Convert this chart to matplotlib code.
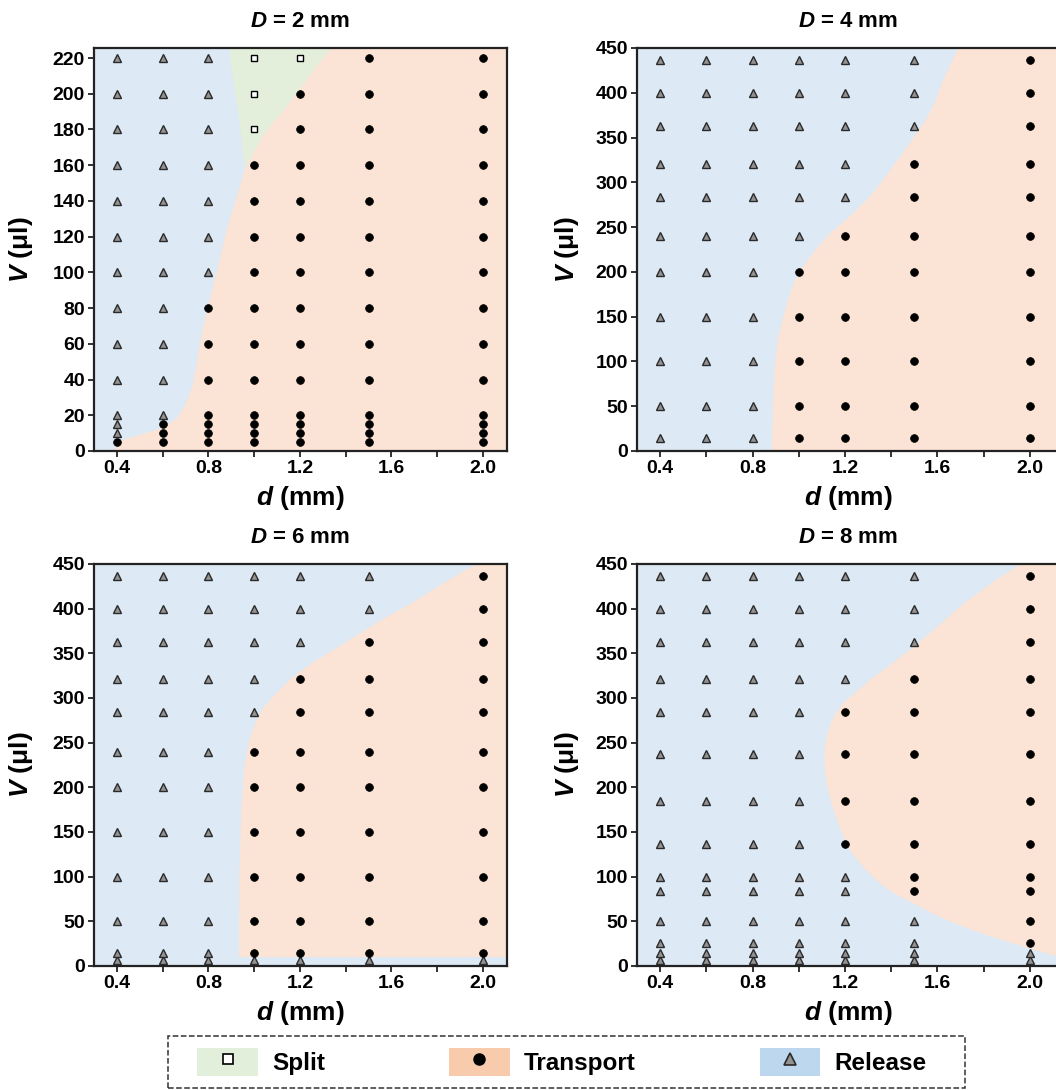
import numpy as np
import matplotlib
matplotlib.use('Agg')
import matplotlib.pyplot as plt
from matplotlib.patches import Patch, Rectangle
from matplotlib.lines import Line2D
from matplotlib.legend_handler import HandlerTuple

plt.rcParams['font.family'] = ['Liberation Sans', 'DejaVu Sans']
plt.rcParams['font.weight'] = 'bold'
plt.rcParams['mathtext.fontset'] = 'custom'
plt.rcParams['mathtext.it'] = 'Liberation Sans:bold:italic'
plt.rcParams['mathtext.rm'] = 'Liberation Sans:bold'

# ---- data ----
d_pos = [0.4, 0.6, 0.8, 1.0, 1.2, 1.5, 2.0]

# R = release, T = transport, S = split ; one string per d, one letter per V
v_d2 = [5, 10, 15, 20, 40, 60, 80, 100, 120, 140, 160, 180, 200, 220]
st_d2 = ["TRRRRRRRRRRRRR",
         "TTTRRRRRRRRRRR",
         "TTTTTTTRRRRRRR",
         "TTTTTTTTTTTSSS",
         "TTTTTTTTTTTTTS",
         "TTTTTTTTTTTTTT",
         "TTTTTTTTTTTTTT"]

v_d4 = [15, 50, 100, 150, 200, 240, 284, 320, 363, 400, 437]
st_d4 = ["RRRRRRRRRRR",
         "RRRRRRRRRRR",
         "RRRRRRRRRRR",
         "TTTTTRRRRRR",
         "TTTTTTRRRRR",
         "TTTTTTTTRRR",
         "TTTTTTTTTTT"]

v_d6 = [7, 15, 50, 100, 150, 200, 240, 284, 321, 363, 400, 437]
st_d6 = ["RRRRRRRRRRRR",
         "RRRRRRRRRRRR",
         "RRRRRRRRRRRR",
         "RTTTTTTRRRRR",
         "RTTTTTTTTRRR",
         "RTTTTTTTTTRR",
         "RTTTTTTTTTTT"]

v_d8 = [7, 15, 26, 50, 84, 100, 137, 185, 237, 284, 321, 363, 400, 437]
st_d8 = ["RRRRRRRRRRRRRR",
         "RRRRRRRRRRRRRR",
         "RRRRRRRRRRRRRR",
         "RRRRRRRRRRRRRR",
         "RRRRRRTTTTRRRR",
         "RRRRTTTTTTTRRR",
         "RRTTTTTTTTTTTT"]

# region outlines (d, V)
tr_d2_x = [0.39, 0.40, 0.50, 0.60, 0.66, 0.70, 0.73, 0.75, 0.77, 0.80, 0.84, 0.88, 0.93, 0.96,
           1.00, 1.04, 1.09, 1.13, 1.20, 1.275, 1.34, 2.2, 2.2]
tr_d2_y = [0, 5, 9, 13, 18, 26, 36, 50, 65, 82, 102, 124, 145, 158,
           168, 177, 185, 191, 203, 216, 226, 226, 0]
sp_d2_x = [0.96, 1.00, 1.04, 1.09, 1.13, 1.20, 1.275, 1.34, 0.89, 0.905, 0.93]
sp_d2_y = [158, 168, 177, 185, 191, 203, 216, 226, 226, 210, 190]

tr_d4_x = [0.883, 0.888, 0.897, 0.91, 0.933, 0.955, 0.977, 1.01, 1.049, 1.09, 1.135, 1.19,
           1.25, 1.31, 1.366, 1.45, 1.54, 1.59, 1.625, 1.69, 2.2, 2.2]
tr_d4_y = [0, 50, 98, 125, 150, 170, 187, 203, 217, 230, 243, 255,
           269, 285, 303, 333, 366, 390, 415, 450, 450, 0]

tr_d6_x = [0.934, 0.934, 0.936, 0.944, 0.955, 0.966, 0.985, 1.01, 1.04, 1.08, 1.17, 1.27,
           1.416, 1.56, 1.68, 1.78, 1.92, 1.98, 2.2, 2.2]
tr_d6_y = [10, 60, 104, 178, 215, 238, 258, 275, 289, 301, 324, 342,
           365, 388, 405, 421, 443, 450, 450, 10]

tr_d8_x = [1.96, 1.84, 1.71, 1.60, 1.496, 1.40, 1.307, 1.24, 1.19, 1.155, 1.133, 1.115, 1.11,
           1.112, 1.118, 1.133, 1.155, 1.185, 1.22, 1.28, 1.35, 1.42, 1.496, 1.60,
           1.71, 1.82, 1.93, 2.02, 2.10, 2.2, 2.2]
tr_d8_y = [450, 430, 405, 380, 357, 338, 320, 305, 294, 281, 268, 250, 238,
           222, 208, 190, 171, 150, 130, 110, 92.5, 80, 70, 56,
           44, 34, 25, 18, 12, 8, 450]

titles = ['2', '4', '6', '8']
xtick_vals = [0.4, 0.6, 0.8, 1.0, 1.2, 1.4, 1.6, 1.8, 2.0]
xtick_labels = ['0.4', '', '0.8', '', '1.2', '', '1.6', '', '2.0']

c_blue = '#dde9f5'
c_orange = '#fbe4d5'
c_green = '#e3efda'

fig = plt.figure(figsize=(10.56, 10.9), dpi=100)

W, H = 1056, 1090
def pos(l, t, r, b):
    return [l / W, 1 - b / H, (r - l) / W, (b - t) / H]

ax1 = fig.add_axes(pos(94, 48, 507, 451))
ax2 = fig.add_axes(pos(637, 48, 1060, 451))
ax3 = fig.add_axes(pos(94, 564, 507, 966))
ax4 = fig.add_axes(pos(637, 564, 1060, 966))

panels = [
    (ax1, v_d2, st_d2, [(tr_d2_x, tr_d2_y, c_orange), (sp_d2_x, sp_d2_y, c_green)], 225.6, np.arange(0, 221, 20), 2.105, -0.143),
    (ax2, v_d4, st_d4, [(tr_d4_x, tr_d4_y, c_orange)], 450, np.arange(0, 451, 50), 2.13, -0.132),
    (ax3, v_d6, st_d6, [(tr_d6_x, tr_d6_y, c_orange)], 450, np.arange(0, 451, 50), 2.105, -0.143),
    (ax4, v_d8, st_d8, [(tr_d8_x, tr_d8_y, c_orange)], 450, np.arange(0, 451, 50), 2.13, -0.132),
]

mk = {
    'R': dict(marker='^', ms=5.4, mfc='#939393', mec='#2a2a2a', mew=1.0),
    'T': dict(marker='o', ms=5.6, mfc='black', mec='black', mew=0.5),
    'S': dict(marker='s', ms=4.4, mfc='white', mec='black', mew=1.0),
}

for (ax, vs, states, regions, ytop, yt, xr, ylx), t in zip(panels, titles):
    ax.set_facecolor(c_blue)
    for rx, ry, rc in regions:
        ax.fill(rx, ry, color=rc, lw=0, zorder=0)
    for d, row in zip(d_pos, states):
        for key in 'RTS':
            yy = [v for v, s in zip(vs, row) if s == key]
            if yy:
                ax.plot([d] * len(yy), yy, ls='none', zorder=3, **mk[key])
    ax.set_xlim(0.3, xr)
    ax.set_ylim(0, ytop)
    ax.set_yticks(yt)
    ax.set_xticks(xtick_vals)
    ax.set_xticklabels(xtick_labels)
    ax.tick_params(direction='out', length=4.5, width=1.3, labelsize=14, pad=2, color='#222222')
    for lab in ax.get_xticklabels() + ax.get_yticklabels():
        lab.set_fontweight('bold')
    for sp in ax.spines.values():
        sp.set_linewidth(1.6)
        sp.set_color('#222222')
    ax.set_title(r'$D$ = ' + t + ' mm', fontsize=16, fontweight='bold', pad=15)
    ax.set_xlabel(r'$d$ (mm)', fontsize=19, fontweight='bold', labelpad=5)
    ax.set_ylabel(r'$V$ (μl)', fontsize=19, fontweight='bold')
    ax.yaxis.set_label_coords(ylx, 0.5)

# legend
handles = [
    (Patch(facecolor='#e2efda', edgecolor='none'), Line2D([], [], ls='none', marker='s', ms=7.5, mfc='white', mec='black', mew=1.2)),
    (Patch(facecolor='#f8cbad', edgecolor='none'), Line2D([], [], ls='none', marker='o', ms=8, mfc='black', mec='black')),
    (Patch(facecolor='#bdd7ee', edgecolor='none'), Line2D([], [], ls='none', marker='^', ms=8, mfc='#939393', mec='#2a2a2a', mew=1.2)),
]
labels = ['Split', 'Transport', 'Release']
fig.legend(handles, labels, handler_map={tuple: HandlerTuple(ndivide=1)},
           loc='center', bbox_to_anchor=(562 / W, 1 - 1062 / H), ncol=3,
           frameon=False, prop={'size': 17.5, 'weight': 'bold'},
           handlelength=2.5, handleheight=1.44, handletextpad=0.58, columnspacing=5.1)
fig.patches.append(Rectangle((168 / W, 1 - 1088 / H), 797 / W, 52 / H, transform=fig.transFigure,
                             fill=False, ec='#333333', lw=1.1, ls='--'))

fig.savefig('out.png', dpi=100)
